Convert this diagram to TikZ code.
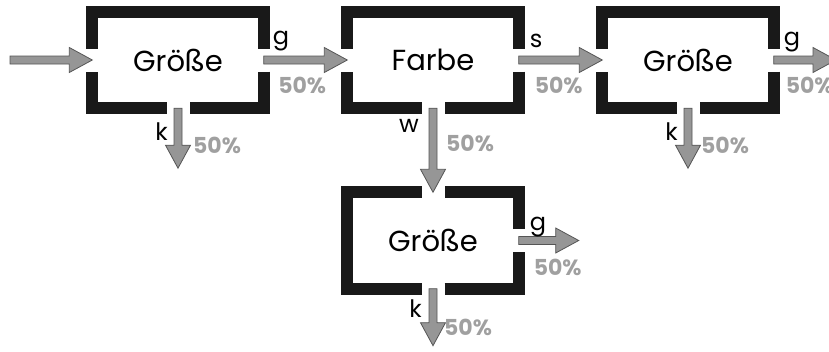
\documentclass[tikz,border=0pt]{standalone}
\usepackage{fontspec}
\setmainfont{Poppins}
\usetikzlibrary{calc,positioning}
\definecolor{PfeilGrau}{RGB}{150,150,150}
\definecolor{PfeilRand}{RGB}{85,85,85}
\definecolor{ProzGrau}{RGB}{160,160,160}

\tikzset{
  sieb/.style={minimum width=171pt, minimum height=96pt, inner sep=0pt,
    font=\fontsize{29}{32}\selectfont},
  wall/.style={draw=black!90, line width=12pt, line cap=butt, line join=miter},
  fat/.style={fill=PfeilGrau, draw=PfeilRand, line width=0.8pt, line join=miter,
    to path={let \p1=(\tikztostart), \p2=(\tikztotarget), \p3=($(\p2)!23pt!(\p1)$) in
      ($(\p1)!4pt!90:(\p2)$) -- ($(\p3)!4pt!90:(\p2)$) -- ($(\p3)!12.5pt!90:(\p2)$)
      -- (\p2) -- ($(\p3)!12.5pt!-90:(\p2)$) -- ($(\p3)!4pt!-90:(\p2)$)
      -- ($(\p1)!4pt!-90:(\p2)$) -- cycle}},
  lab/.style={inner sep=0pt, font=\fontsize{24}{26}\selectfont},
  proz/.style={inner sep=0pt, text=ProzGrau, font=\fontsize{22}{24}\selectfont\bfseries},
}

\begin{document}
\begin{tikzpicture}[x=1pt, y=1pt]
  \useasboundingbox (0,0) rectangle (829,-351);
  \clip (0,0) rectangle (829,-351);
  \def\xgap{255}
  \def\gap{11.5}

  % Siebe
  \node[sieb] (groesse1) at (178,-60) {Größe};
  \node[sieb] (farbe) at (178+\xgap,-60) {Farbe};
  \node[sieb] (groesse2) at (178+2*\xgap,-60) {Größe};
  \node[sieb] (groesse3) at (178+\xgap,-240.5) {Größe};

  \foreach \b in {groesse1,farbe,groesse2} {
    \draw[wall] ($(\b.west)+(0,\gap)$) -- (\b.north west) -- (\b.north east) -- ($(\b.east)+(0,\gap)$)
      ($(\b.east)+(0,-\gap)$) -- (\b.south east) -- ($(\b.south)+(\gap,0)$)
      ($(\b.south)+(-\gap,0)$) -- (\b.south west) -- ($(\b.west)+(0,-\gap)$);
  }
  \draw[wall] ($(groesse3.north)+(-\gap,0)$) -- (groesse3.north west) -- (groesse3.south west) -- ($(groesse3.south)+(-\gap,0)$)
    ($(groesse3.south)+(\gap,0)$) -- (groesse3.south east) -- ($(groesse3.east)+(0,-\gap)$)
    ($(groesse3.east)+(0,\gap)$) -- (groesse3.north east) -- ($(groesse3.north)+(\gap,0)$);

  % freie Enden
  \coordinate (ein) at (10,-60);
  \coordinate (g2-aus) at (836,-60);
  \coordinate (k1-aus) at ($(groesse1.south)+(0,-60)$);
  \coordinate (k2-aus) at ($(groesse2.south)+(0,-60)$);
  \coordinate (g3-aus) at ($(groesse3.east)+(60,0)$);
  \coordinate (k3-aus) at ($(groesse3.south)+(0,-57)$);

  % Pfeile
  \draw[fat] (ein) to (groesse1.west);
  \draw[fat] (groesse1.east) to (farbe.west);
  \draw[fat] (groesse1.south) to (k1-aus);
  \draw[fat] (farbe.east) to (groesse2.west);
  \draw[fat] (farbe.south) to (groesse3.north);
  \draw[fat] (groesse2.east) to (g2-aus);
  \draw[fat] (groesse2.south) to (k2-aus);
  \draw[fat] (groesse3.east) to (g3-aus);
  \draw[fat] (groesse3.south) to (k3-aus);

  % Beschriftungen
  \node[lab, anchor=base west] (g1-g) at ($(groesse1.east)+(9,16)$) {g};
  \node[lab, anchor=base east] (g1-k) at ($(groesse1.south)+(-10,-32)$) {k};
  \node[proz] (g1-gp) at ($(groesse1.east)+(38.5,-25)$) {50\%};
  \node[proz] (g1-kp) at ($(groesse1.south)+(39,-37)$) {50\%};

  \node[lab, anchor=base west] (f-s) at ($(farbe.east)+(11,13)$) {s};
  \node[lab, anchor=base east] (f-w) at ($(farbe.south)+(-14,-24)$) {w};
  \node[proz] (f-sp) at ($(farbe.east)+(40,-25)$) {50\%};
  \node[proz] (f-wp) at ($(farbe.south)+(37,-35)$) {50\%};

  \node[lab, anchor=base west] (g2-g) at ($(groesse2.east)+(10,15)$) {g};
  \node[lab, anchor=base east] (g2-k) at ($(groesse2.south)+(-10,-32)$) {k};
  \node[proz] (g2-gp) at ($(groesse2.east)+(36,-25)$) {50\%};
  \node[proz] (g2-kp) at ($(groesse2.south)+(37,-37)$) {50\%};

  \node[lab, anchor=base west] (g3-g) at ($(groesse3.east)+(11,10.5)$) {g};
  \node[lab, anchor=base east] (g3-k) at ($(groesse3.south)+(-11,-28.5)$) {k};
  \node[proz] (g3-gp) at ($(groesse3.east)+(39,-27)$) {50\%};
  \node[proz] (g3-kp) at ($(groesse3.south)+(35,-38.5)$) {50\%};
\end{tikzpicture}
\end{document}
